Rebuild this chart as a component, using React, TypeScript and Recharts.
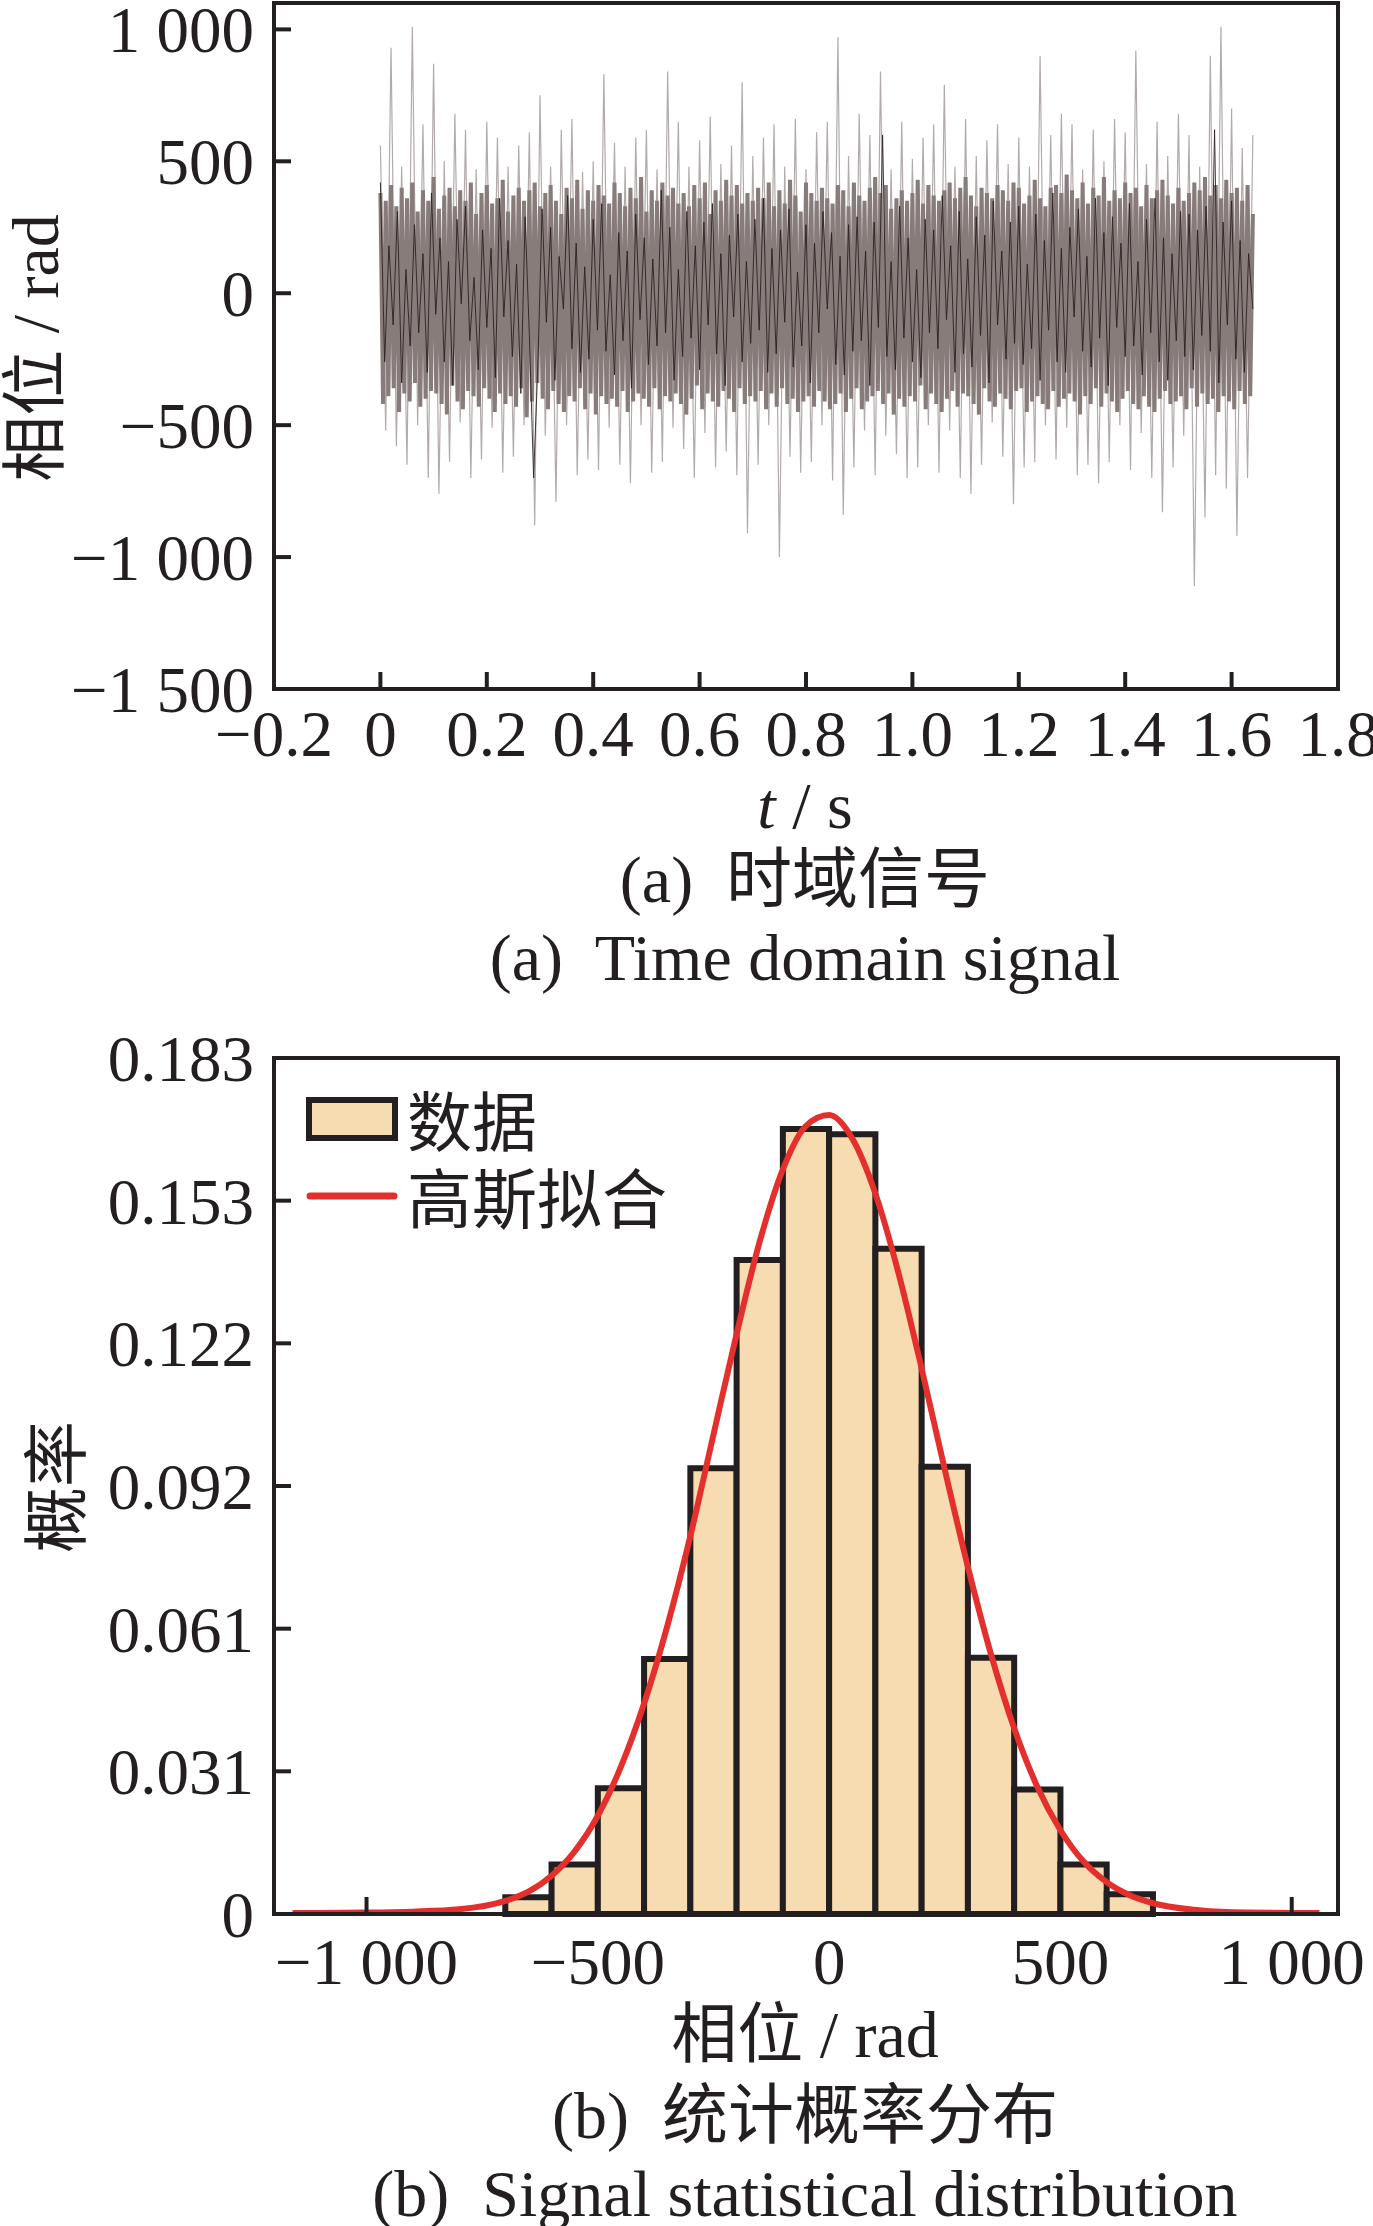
import React from 'react'
import { LineChart, ComposedChart, Line, XAxis, YAxis, ReferenceArea, Legend } from 'recharts'

const serif = '"Liberation Serif", "Times New Roman", "Noto Sans CJK SC", serif'
const cjk = '"Noto Sans CJK SC", "Liberation Serif", sans-serif'
const ink = '#231f20'

// (a) time-domain signal — three layers (outer spikes, dense band, dark core)
const bandStep = 0.005
const bandValues = [
    380, -420, 350, -390, 410, -360, 330, -450, 400, -380,
    360, -410, 420, -340, 310, -430, 390, -400, 350, -370,
    440, -380, 320, -420, 370, -460, 400, -350, 330, -410,
    390, -440, 350, -370, 420, -390, 300, -430, 380, -360,
    410, -400, 340, -450, 360, -380, 430, -420, 310, -390,
    370, -430, 400, -360, 350, -470, 390, -410, 420, -340,
    330, -400, 380, -440, 410, -370, 350, -420, 300, -450,
    400, -390, 360, -410, 430, -360, 320, -440, 390, -380,
    350, -460, 410, -390, 370, -420, 340, -400, 420, -430,
    380, -370, 330, -450, 400, -410, 360, -380, 440, -400,
    310, -430, 390, -360, 350, -440, 420, -390, 370, -410,
    400, -380, 340, -420, 380, -460, 330, -400, 410, -350,
    360, -440, 420, -380, 300, -410, 390, -430, 350, -370,
    430, -400, 370, -450, 410, -360, 340, -420, 380, -390,
    350, -410, 400, -370, 360, -440, 420, -380, 330, -430,
    390, -360, 340, -420, 430, -400, 370, -450, 310, -410,
    420, -390, 380, -430, 350, -370, 400, -410, 360, -440,
    340, -420, 410, -380, 390, -450, 330, -400, 420, -360,
    370, -440, 350, -410, 400, -390, 440, -370, 380, -420,
    410, -380, 320, -460, 360, -400, 390, -430, 350, -390,
    380, -410, 430, -350, 340, -440, 410, -380, 370, -420,
    350, -450, 390, -400, 420, -370, 360, -430, 400, -380,
    440, -390, 370, -420, 330, -460, 400, -360, 380, -410,
    360, -430, 410, -380, 390, -400, 350, -440, 420, -370,
    400, -360, 340, -450, 370, -410, 430, -390, 360, -420,
    330, -440, 400, -370, 410, -430, 380, -400, 450, -380,
    390, -410, 360, -460, 420, -390, 340, -420, 400, -360,
    370, -430, 440, -380, 350, -410, 390, -450, 360, -400,
    420, -370, 380, -420, 400, -440, 330, -390, 410, -430,
    360, -450, 390, -400, 430, -370, 370, -420, 340, -410,
    400, -390, 350, -440, 380, -360, 420, -430, 390, -380,
    440, -420, 370, -400, 410, -450, 360, -390, 430, -410,
    380, -440, 400, -370, 350, -420, 410, -390, 300,
]

const spikeStep = 0.01
const spikeValues = [
    560, -520, 930, -580, 480, -650, 1010, -500, 640, -700,
    870, -760, 500, -640, 680, -490, 620, -700, 470, -630,
    650, -510, 590, -680, 480, -620, 560, -500, 610, -880,
    750, -540, 480, -790, 620, -500, 660, -690, 460, -630,
    500, -670, 830, -510, 570, -650, 480, -720, 590, -500,
    620, -680, 470, -640, 840, -510, 650, -590, 480, -700,
    580, -530, 670, -660, 490, -600, 560, -690, 800, -910,
    520, -650, 590, -500, 640, -1000, 480, -620, 660, -680,
    470, -640, 610, -500, 650, -710, 970, -840, 520, -660,
    680, -520, 600, -690, 840, -540, 470, -610, 650, -700,
    510, -660, 590, -500, 640, -680, 790, -520, 480, -700,
    660, -760, 520, -650, 580, -490, 640, -620, 490, -800,
    590, -660, 480, -640, 900, -500, 600, -630, 680, -510,
    640, -690, 470, -650, 620, -720, 500, -640, 660, -500,
    610, -670, 920, -530, 490, -700, 650, -830, 520, -660,
    680, -540, 600, -1110, 480, -850, 900, -690, 1010, -740,
    700, -920, 550, -700, 600,
]

const coreStep = 0.008
const coreValues = [
    420, -260, 180, -120, 310, -340, 90, -200, 260, -150,
    150, -300, 380, -80, 210, -260, 120, -350, 280, -40,
    330, -180, 60, -290, 240, -130, 170, -320, 360, -90,
    200, -240, 110, -380, 290, -160, -700, -270, 320, -110,
    250, -330, 140, -60, 370, -210, 190, -300, 100, -250,
    280, -140, 340, -220, 70, -310, 230, -180, 160, -360,
    300, -100, 210, -270, 130, -200, 390, -150, 250, -330,
    90, -240, 310, -170, 180, -290, 270, -120, 340, -230,
    150, -350, 220, -90, 300, -260, 120, -190, 280, -140,
    360, -300, 170, -230, 240, -110, 320, -280, 80, -200,
    260, -340, 190, -150, 310, -60, 230, -270, 140, -310,
    260, -220, 290, -180, 160, -350, 270, -130, 600, -240,
    120, -290, 330, -170, 210, -260, 90, -320, 280, -150,
    240, -210, 370, -100, 180, -300, 310, -230, 130, -280,
    290, -160, 220, -340, 350, -120, 160, -250, 270, -190,
    330, -270, 110, -210, 300, -330, 200, -140, 380, -260,
    170, -300, 250, -90, 320, -220, 140, -280, 360, -170,
    230, -350, 290, -130, 190, -240, 340, -200, 120, -310,
    280, -150, 360, -260, 210, -330, 150, -180, 310, -240,
    300, -290, 240, -160, 330, -220, 620, -340, 270, -120,
    350, -250, 200, -300, 150, -60,
]

const timeTicks = [-0.2, 0, 0.2, 0.4, 0.6, 0.8, 1.0, 1.2, 1.4, 1.6, 1.8]
const timeTickLabels = ['−0.2', '0', '0.2', '0.4', '0.6', '0.8', '1.0', '1.2', '1.4', '1.6', '1.8']
const phaseTicks = [-1500, -1000, -500, 0, 500, 1000]
const phaseTickLabels = ['−1 500', '−1 000', '−500', '0', '500', '1 000']

// (b) histogram of phase values, bins of 100 rad
const binEdges = [-700, -600, -500, -400, -300, -200, -100, 0, 100, 200, 300, 400, 500, 600, 700]
const binProb = [0.0036, 0.0106, 0.0269, 0.0545, 0.0953, 0.1398, 0.1678, 0.1667, 0.1422, 0.0956, 0.0548, 0.0266, 0.0106, 0.0042]

const fitX = [-1160, -1000, -900, -800, -700, -650, -600, -550, -500, -450, -400, -350, -300, -250, -200, -150, -100, -50, 0, 50, 100, 150, 200, 250, 300, 350, 400, 450, 500, 550, 600, 650, 700, 800, 900, 1060]
const fitP = [0.0002, 0.0003, 0.0005, 0.0010, 0.0028, 0.0048, 0.0082, 0.0134, 0.0210, 0.0315, 0.0450, 0.0615, 0.0808, 0.1025, 0.1240, 0.1438, 0.1592, 0.1685, 0.1708, 0.1658, 0.1540, 0.1370, 0.1166, 0.0950, 0.0742, 0.0555, 0.0397, 0.0272, 0.0179, 0.0112, 0.0068, 0.0040, 0.0023, 0.0008, 0.0003, 0.0002]

const probTicks = [0, 0.0305, 0.061, 0.0915, 0.122, 0.1525, 0.183]
const probTickLabels = ['0', '0.031', '0.061', '0.092', '0.122', '0.153', '0.183']
const rangeTicks = [-1000, -500, 0, 500, 1000]
const rangeTickLabels = ['−1 000', '−500', '0', '500', '1 000']

const toSeries = (values: number[], step: number) =>
    values.map((v, i) => ({ t: +(i * step).toFixed(3), v }))

const bandData = toSeries(bandValues, bandStep)
const spikeData = toSeries(spikeValues, spikeStep)
const coreData = toSeries(coreValues, coreStep)
const fitData = fitX.map((x, i) => ({ x, p: fitP[i] }))

const barFill = '#f8dcb1'
const fitColor = '#e3302c'

const tickFont = { fontSize: 65, fill: ink, fontFamily: serif }
const axisLine = { stroke: ink, strokeWidth: 4 }
const tickLine = { stroke: ink, strokeWidth: 4 }

// rotated axis title drawn inside the svg (cx, cy in svg coordinates)
const sideTitle = (text: string, cx: number, cy: number) => ({
    content: () => (
        <text
            x={cx}
            y={cy}
            transform={`rotate(-90 ${cx} ${cy})`}
            textAnchor="middle"
            dominantBaseline="central"
            style={{ fontFamily: serif, fontSize: 66, fill: ink }}
        >
            {text}
        </text>
    ),
})

function Caption({ x, y, children }: { x: number; y: number; children: React.ReactNode }) {
    return (
        <div
            style={{
                position: 'absolute',
                left: x,
                top: y,
                transform: 'translate(-50%, -50%)',
                fontFamily: serif,
                fontSize: 66,
                lineHeight: 1,
                color: ink,
                whiteSpace: 'pre',
            }}
        >
            {children}
        </div>
    )
}

function HistLegend() {
    return (
        <div style={{ fontFamily: cjk, fontSize: 65, color: ink, lineHeight: '77px' }}>
            <div style={{ display: 'flex', alignItems: 'center', height: 77 }}>
                <svg width={92} height={44} style={{ display: 'block' }}>
                    <rect x={3} y={3} width={86} height={38} fill={barFill} stroke={ink} strokeWidth={6} />
                </svg>
                <span style={{ marginLeft: 9 }}>数据</span>
            </div>
            <div style={{ display: 'flex', alignItems: 'center', height: 77 }}>
                <svg width={92} height={44} style={{ display: 'block' }}>
                    <line x1={4} x2={88} y1={22} y2={22} stroke={fitColor} strokeWidth={7} strokeLinecap="round" />
                </svg>
                <span style={{ marginLeft: 9 }}>高斯拟合</span>
            </div>
        </div>
    )
}

export default function App() {
    return (
        <div style={{ position: 'absolute', left: 0, top: 0, width: 1373, height: 2226, background: '#fff' }}>
            <style>{'.recharts-surface { overflow: visible; }'}</style>
            <div style={{ position: 'absolute', left: 0, top: 0 }}>
                <LineChart width={1373} height={800} margin={{ top: 3, right: 35, bottom: 0, left: 0 }}>
                    <XAxis
                        type="number"
                        dataKey="t"
                        domain={[-0.2, 1.8]}
                        ticks={timeTicks}
                        interval={0}
                        allowDataOverflow
                        height={111}
                        tickSize={-17}
                        tickMargin={38}
                        tick={tickFont}
                        axisLine={axisLine}
                        tickLine={tickLine}
                        tickFormatter={v => timeTickLabels[timeTicks.indexOf(v)]}
                    />
                    <YAxis
                        type="number"
                        domain={[-1500, 1100]}
                        ticks={phaseTicks}
                        interval={0}
                        allowDataOverflow
                        width={274}
                        tickSize={-17}
                        tickMargin={37}
                        tick={tickFont}
                        axisLine={axisLine}
                        tickLine={tickLine}
                        tickFormatter={v => phaseTickLabels[phaseTicks.indexOf(v)]}
                        label={sideTitle('相位 / rad', 35, 348)}
                    />
                    <ReferenceArea x1={-0.2} x2={1.8} y1={-1500} y2={1100} fill="none" stroke={ink} strokeWidth={4} />
                    <Line data={spikeData} dataKey="v" type="linear" stroke="#b3abab" strokeWidth={1.2} dot={false} isAnimationActive={false} />
                    <Line data={bandData} dataKey="v" type="linear" stroke="#877c7a" strokeWidth={4} dot={false} isAnimationActive={false} />
                    <Line data={coreData} dataKey="v" type="linear" stroke="#2b2120" strokeWidth={0.9} dot={false} isAnimationActive={false} />
                </LineChart>
            </div>

            <Caption x={805} y={806}><span style={{ fontStyle: 'italic' }}>t</span> / s</Caption>
            <Caption x={805} y={880}>(a)  时域信号</Caption>
            <Caption x={805} y={958}>(a)  Time domain signal</Caption>

            <div style={{ position: 'absolute', left: 0, top: 1000 }}>
                <ComposedChart width={1373} height={1030} data={fitData} margin={{ top: 58, right: 35, bottom: 0, left: 0 }}>
                    <XAxis
                        type="number"
                        dataKey="x"
                        domain={[-1200, 1100]}
                        ticks={rangeTicks}
                        interval={0}
                        allowDataOverflow
                        height={116}
                        tickSize={-17}
                        tickMargin={41}
                        tick={tickFont}
                        axisLine={axisLine}
                        tickLine={tickLine}
                        tickFormatter={v => rangeTickLabels[rangeTicks.indexOf(v)]}
                    />
                    <YAxis
                        type="number"
                        domain={[0, 0.183]}
                        ticks={probTicks}
                        interval={0}
                        allowDataOverflow
                        width={274}
                        tickSize={-17}
                        tickMargin={37}
                        tick={tickFont}
                        axisLine={axisLine}
                        tickLine={tickLine}
                        tickFormatter={v => probTickLabels[probTicks.indexOf(v)]}
                        label={sideTitle('概率', 57, 487)}
                    />
                    {binProb.map((p, i) => (
                        <ReferenceArea
                            key={i}
                            x1={binEdges[i]}
                            x2={binEdges[i + 1]}
                            y1={0}
                            y2={p}
                            fill={barFill}
                            fillOpacity={1}
                            stroke={ink}
                            strokeWidth={6}
                        />
                    ))}
                    <ReferenceArea x1={-1200} x2={1100} y1={0} y2={0.183} fill="none" stroke={ink} strokeWidth={4} />
                    <Line dataKey="p" type="monotone" stroke={fitColor} strokeWidth={6} dot={false} isAnimationActive={false} />
                    <Legend
                        layout="vertical"
                        align="center"
                        verticalAlign="middle"
                        content={() => <HistLegend />}
                        wrapperStyle={{ left: 306, top: 80, width: 'auto' }}
                    />
                </ComposedChart>
            </div>

            <Caption x={805} y={2035}>相位 / rad</Caption>
            <Caption x={805} y={2116}>(b)  统计概率分布</Caption>
            <Caption x={805} y={2194}>(b)  Signal statistical distribution</Caption>
        </div>
    )
}
